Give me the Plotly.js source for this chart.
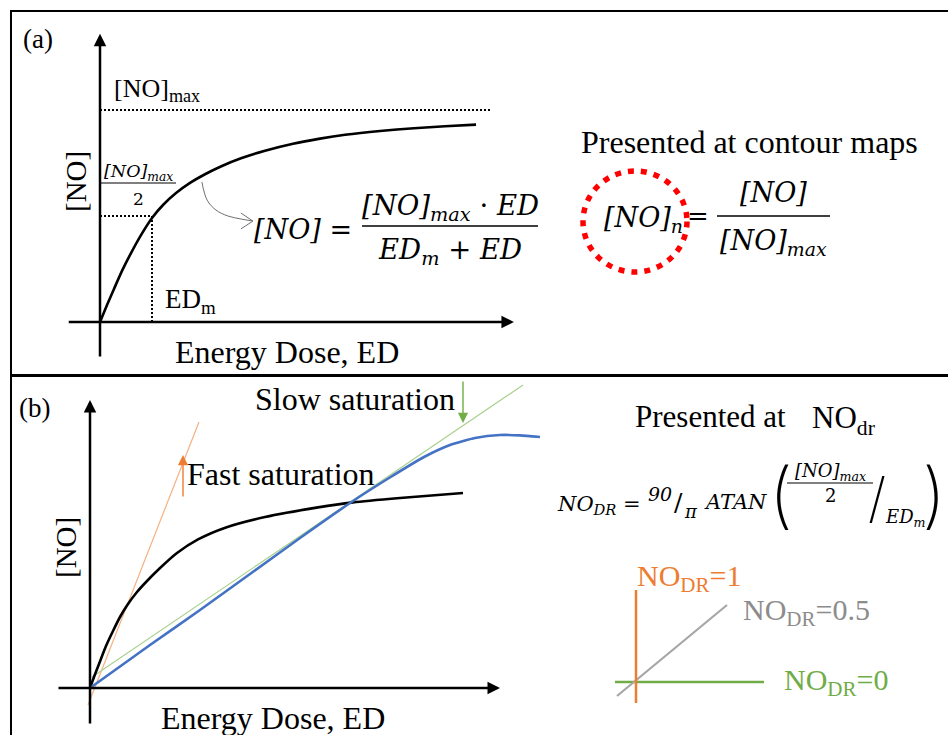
<!DOCTYPE html>
<html>
<head>
<meta charset="utf-8">
<script src="https://cdn.plot.ly/plotly-3.0.1.min.js"></script>
<style>html,body{margin:0;padding:0;background:#fff;}#chart{width:948px;height:735px;}</style>
</head>
<body>
<div id="chart"></div>
<script>
// ---------------- DATA ----------------
// Panel (a): saturation curve, ED in units of ED_m, [NO] in units of [NO]max
const edA = [0, 0.135, 0.269, 0.423, 0.596, 0.788, 1.0, 1.212, 1.462, 1.731, 2.019, 2.346, 2.712, 3.173, 3.712, 4.231, 4.712, 5.385, 6.038, 6.635, 7.231];
const noA = [0, 0.080, 0.156, 0.241, 0.325, 0.410, 0.491, 0.552, 0.608, 0.656, 0.697, 0.736, 0.772, 0.808, 0.841, 0.865, 0.883, 0.901, 0.914, 0.923, 0.931];
const noMaxLineEd = [0, 7.5];
const noMaxLineNo = [1, 1];
const halfLineEd = [0, 1, 1];
const halfLineNo = [0.5, 0.5, 0];
const pointerEd = [1.96, 2.06, 2.23, 2.46, 2.71, 2.94];
const pointerNo = [0.66, 0.575, 0.528, 0.5, 0.486, 0.476];
const chevronEd = [2.71, 2.94, 2.71];
const chevronNo = [0.514, 0.476, 0.439];

// Panel (b): fast (black) and slow (blue) saturation curves + tangents
const edFast = [0, 0.08, 0.18, 0.32, 0.46, 0.6, 0.76, 0.94, 1.14, 1.38, 1.74, 2.16, 2.72, 3.5, 4.56, 5.26, 6.2, 7.46];
const noFast = [0, 0.055, 0.12, 0.21, 0.285, 0.355, 0.42, 0.48, 0.535, 0.595, 0.675, 0.743, 0.803, 0.855, 0.903, 0.928, 0.95, 0.975];
const edSlow = [0, 1.2, 2.2, 3.2, 4.2, 5.26, 5.98, 6.68, 7.2, 7.7, 8.2, 8.6, 9.0];
const noSlow = [0, 0.215, 0.39, 0.57, 0.75, 0.935, 1.05, 1.155, 1.215, 1.25, 1.265, 1.263, 1.255];
const edTanSlow = [0.04, 8.66];
const noTanSlow = [0.055, 1.515];
const edTanFast = [-0.04, 2.18];
const noTanFast = [-0.085, 1.33];

// Right of panel (b): NO_DR slope sketch
const edDr1 = [0, 0];        const noDr1 = [-0.21, 0.92];
const edDr05 = [-0.19, 0.91]; const noDr05 = [-0.14, 0.77];
const edDr0 = [-0.21, 1.28]; const noDr0 = [0, 0];

// Texts
const xLabel = 'Energy Dose, ED';
const yLabel = '[NO]';
const slowLabel = 'Slow saturation';
const fastLabel = 'Fast saturation';
const contourTitle = 'Presented at contour maps';
const drLabels = ['NO<sub>DR</sub>=1', 'NO<sub>DR</sub>=0.5', 'NO<sub>DR</sub>=0'];

// ---------------- LAYOUT HELPERS ----------------
const W = 948, H = 735;
const SERIF = "'Liberation Serif', 'Times New Roman', serif";
const MATH = "'DejaVu Serif', serif";
const THIN = "Inter, 'DejaVu Sans', sans-serif";
const ORANGE = '#ed7d31', GREEN = '#70ad47', BLUE = '#4472c4', GRAYL = '#a6a6a6';

// axis pair ranges so that data units map to page pixels
function xr(originPx, pxPerUnit) { return [(0 - originPx) / pxPerUnit, (W - originPx) / pxPerUnit]; }
function yr(originPx, pxPerUnit) { return [(originPx - H) / pxPerUnit, originPx / pxPerUnit]; }
const hidden = {visible: false, showgrid: false, zeroline: false, fixedrange: true};

const px = x => x / W;
const py = y => 1 - y / H;

function txt(text, x, y, size, o) {
  o = o || {};
  const f = {family: o.family || SERIF, size: size, color: o.color || '#000'};
  if (o.weight) f.weight = o.weight;
  return {
    xref: 'paper', yref: 'paper', x: px(x), y: py(y), text: text, showarrow: false,
    xanchor: o.xa || 'center', yanchor: 'middle', textangle: o.angle || 0, font: f,
    borderpad: 0
  };
}
function arrow(xref, yref, x, y, ax, ay, color, w, size) {
  return {xref: xref, yref: yref, axref: xref, ayref: yref, x: x, y: y, ax: ax, ay: ay,
    text: '', showarrow: true, arrowhead: 2, arrowwidth: w, arrowsize: size, arrowcolor: color,
    standoff: 0, startstandoff: 0};
}
function hline(x0, x1, y, w, color) {
  return {type: 'line', xref: 'paper', yref: 'paper', x0: px(x0), x1: px(x1), y0: py(y), y1: py(y),
    line: {color: color || '#000', width: w}};
}
function vline(x, y0, y1, w) {
  return {type: 'line', xref: 'paper', yref: 'paper', x0: px(x), x1: px(x), y0: py(y0), y1: py(y1),
    line: {color: '#000', width: w}};
}

// ---------------- TRACES ----------------
const dotted = {color: '#000', width: 2, dash: '2px,2px'};
const traces = [
  // panel (a)
  {x: noMaxLineEd, y: noMaxLineNo, xaxis: 'x', yaxis: 'y', mode: 'lines', line: dotted},
  {x: halfLineEd, y: halfLineNo, xaxis: 'x', yaxis: 'y', mode: 'lines', line: dotted},
  {x: edA, y: noA, xaxis: 'x', yaxis: 'y', mode: 'lines', line: {color: '#000', width: 2.6, shape: 'spline', smoothing: 0.6}},
  {x: pointerEd, y: pointerNo, xaxis: 'x', yaxis: 'y', mode: 'lines', line: {color: '#6f6f6f', width: 1, shape: 'spline'}},
  {x: chevronEd, y: chevronNo, xaxis: 'x', yaxis: 'y', mode: 'lines', line: {color: '#6f6f6f', width: 1}},
  // panel (b)
  {x: edTanFast, y: noTanFast, xaxis: 'x2', yaxis: 'y2', mode: 'lines', line: {color: '#f4b183', width: 1.2}},
  {x: edTanSlow, y: noTanSlow, xaxis: 'x2', yaxis: 'y2', mode: 'lines', line: {color: '#a9d18e', width: 1.2}},
  {x: edFast, y: noFast, xaxis: 'x2', yaxis: 'y2', mode: 'lines', line: {color: '#000', width: 2.6, shape: 'spline', smoothing: 0.7}},
  {x: edSlow, y: noSlow, xaxis: 'x2', yaxis: 'y2', mode: 'lines', line: {color: BLUE, width: 2.6, shape: 'spline', smoothing: 0.5}},
  // NO_DR sketch
  {x: edDr0, y: noDr0, xaxis: 'x3', yaxis: 'y3', mode: 'lines', line: {color: GREEN, width: 2.5}},
  {x: edDr05, y: noDr05, xaxis: 'x3', yaxis: 'y3', mode: 'lines', line: {color: GRAYL, width: 2.2}},
  {x: edDr1, y: noDr1, xaxis: 'x3', yaxis: 'y3', mode: 'lines', line: {color: ORANGE, width: 2.5}}
];

// ---------------- ANNOTATIONS ----------------
const ann = [
  // axes arrows
  arrow('x', 'y', 0, 1.36, 0, -0.17, '#000', 2.5, 1),
  arrow('x', 'y', 7.96, 0, -0.63, 0, '#000', 2.5, 1),
  arrow('x2', 'y2', 0, 1.44, 0, -0.185, '#000', 2.5, 1),
  arrow('x2', 'y2', 8.2, 0, -0.66, 0, '#000', 2.5, 1),
  arrow('x2', 'y2', 1.86, 1.165, 1.86, 0.95, ORANGE, 1.4, 1.45),
  arrow('x2', 'y2', 7.46, 1.325, 7.46, 1.54, GREEN, 1.4, 1.45),

  // panel (a) texts
  txt('(a)', 38, 39, 27),
  txt('[NO]<sub>max</sub>', 113, 90, 26, {xa: 'left'}),
  txt('<i>[NO]<sub>max</sub></i>', 138, 172, 17.5, {family: MATH}),
  txt('2', 138, 199, 17, {family: MATH}),
  txt(yLabel, 76, 182, 29, {angle: -90}),
  txt('ED<sub>m</sub>', 164, 301, 27, {xa: 'left'}),
  txt(xLabel, 287, 352, 32),
  txt('<i>[NO]</i> =', 353, 229, 27, {family: MATH, xa: 'right'}),
  txt('<i>[NO]<sub>max</sub></i> · <i>ED</i>', 450, 207, 27.5, {family: MATH}),
  txt('<i>ED<sub>m</sub></i> + <i>ED</i>', 450, 251, 27.5, {family: MATH}),
  txt(contourTitle, 749, 142, 32),
  txt('<i>[NO]<sub>n</sub></i>', 603, 219, 27, {family: MATH, xa: 'left'}),
  txt('=', 698, 216, 26, {family: MATH}),
  txt('<i>[NO]</i>', 773, 192, 27, {family: MATH}),
  txt('<i>[NO]<sub>max</sub></i>', 773, 243, 27, {family: MATH}),

  // panel (b) texts
  txt('(b)', 34, 408, 27),
  txt(slowLabel, 355, 399, 32),
  txt(fastLabel, 186, 474, 32, {xa: 'left'}),
  txt(yLabel, 66, 548, 29, {angle: -90}),
  txt(xLabel, 273, 718, 32),
  txt('Presented at', 634, 416, 31, {xa: 'left'}),
  txt('NO<sub>dr</sub>', 811, 420, 31, {xa: 'left'}),
  txt('<i>NO<sub>DR</sub></i> =', 556, 505, 21, {family: MATH, xa: 'left'}),
  txt('<i>90</i>', 660, 494, 19, {family: MATH}),
  txt('/', 678, 502, 25, {family: MATH}),
  txt('<i>π</i>', 691, 512, 18, {family: MATH}),
  txt('<i>ATAN</i>', 703, 502, 21, {family: MATH, xa: 'left'}),
  txt('(', 781, 493, 72, {family: THIN, weight: 200}),
  txt('<i>[NO]<sub>max</sub></i>', 830, 472, 18, {family: MATH}),
  txt('2', 830, 496, 18, {family: MATH}),
  txt('/', 877, 497, 54, {family: THIN, weight: 200}),
  txt('<i>ED<sub>m</sub></i>', 905, 518, 18, {family: MATH}),
  txt(')', 947, 493, 72, {family: THIN, weight: 200, xa: 'right'}),
  txt(drLabels[0], 636, 578, 30, {xa: 'left', color: ORANGE}),
  txt(drLabels[1], 742, 612, 30, {xa: 'left', color: '#8c8c8c'}),
  txt(drLabels[2], 783, 682, 30, {xa: 'left', color: GREEN})
];

// ---------------- SHAPES (frame, fraction bars, highlight circle) ----------------
const shapes = [
  hline(10, W, 11, 2),
  vline(11, 10, H, 2),
  hline(10, W, 375.5, 3),
  hline(100, 176, 183, 1.2),
  hline(362, 538, 226, 1.4),
  hline(717, 830, 216, 1.4),
  hline(787, 873, 483, 1),
  {type: 'circle', xref: 'paper', yref: 'paper', x0: px(583), x1: px(687), y0: py(171), y1: py(272),
    line: {color: '#ff0000', width: 5.5, dash: '6px,7px'}}
];

const layout = {
  width: W, height: H,
  margin: {l: 0, r: 0, t: 0, b: 0},
  paper_bgcolor: '#fff', plot_bgcolor: 'rgba(0,0,0,0)',
  showlegend: false,
  xaxis: Object.assign({range: xr(100, 52)}, hidden),
  yaxis: Object.assign({range: yr(322, 212)}, hidden),
  xaxis2: Object.assign({range: xr(90, 50), overlaying: 'x'}, hidden),
  yaxis2: Object.assign({range: yr(688, 200), overlaying: 'y'}, hidden),
  xaxis3: Object.assign({range: xr(636, 100), overlaying: 'x'}, hidden),
  yaxis3: Object.assign({range: yr(682, 100), overlaying: 'y'}, hidden),
  annotations: ann,
  shapes: shapes
};

Plotly.newPlot('chart', traces, layout, {displayModeBar: false, staticPlot: true});
</script>
</body>
</html>
